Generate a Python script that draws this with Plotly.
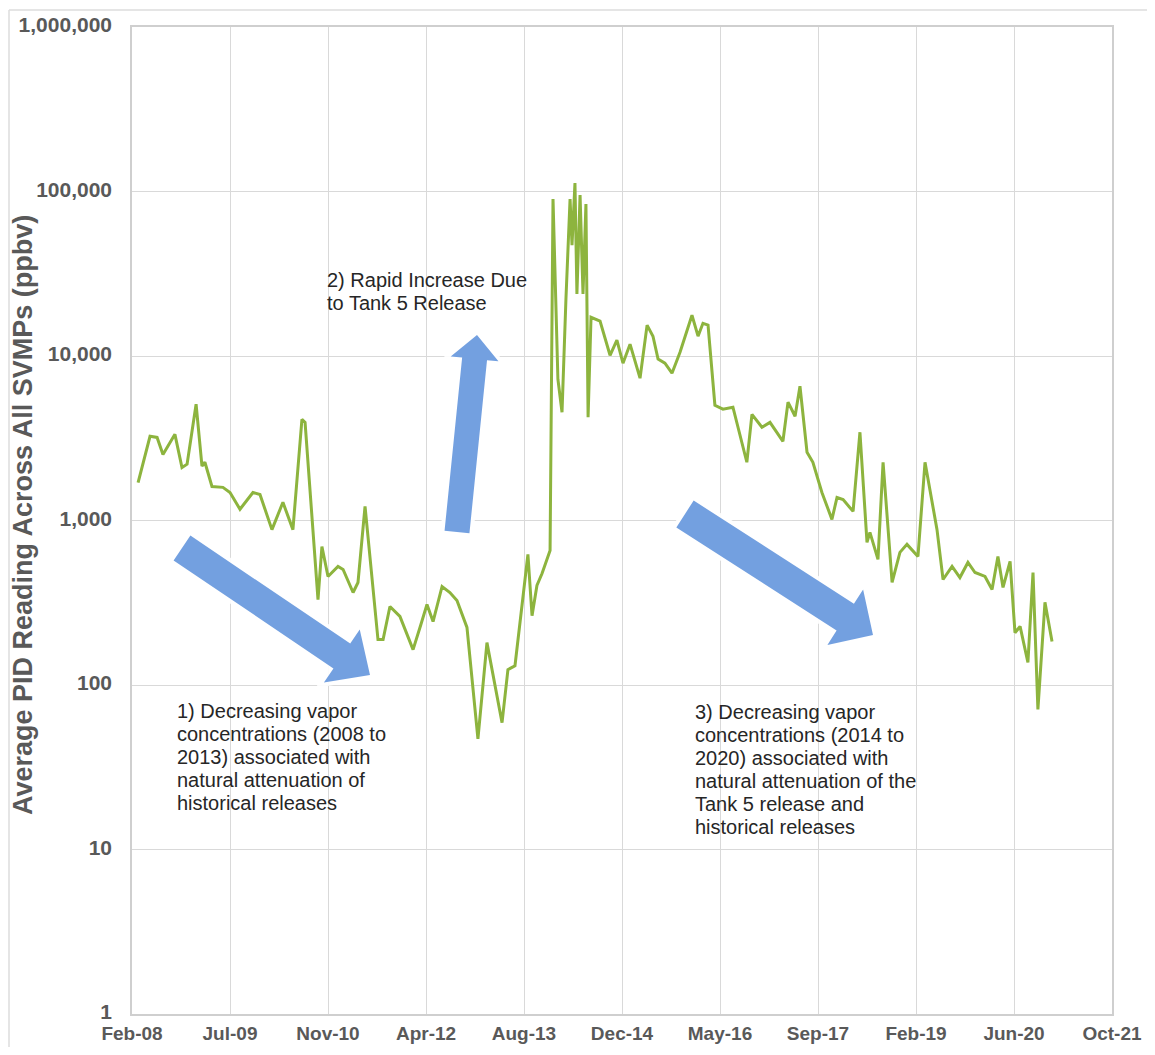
import plotly.graph_objects as go
import pandas as pd

# ---------------- data ----------------
dates = [
    "2008-03-27", "2008-05-27", "2008-07-02", "2008-08-01", "2008-10-01", "2008-11-06", "2008-12-02",
    "2009-01-17", "2009-02-16", "2009-03-03", "2009-04-08", "2009-06-03", "2009-07-09", "2009-08-29", "2009-11-03", "2009-12-09",
    "2010-02-08", "2010-04-05", "2010-05-26", "2010-07-11", "2010-07-27", "2010-10-01", "2010-10-21", "2010-11-21",
    "2011-01-11", "2011-02-06", "2011-03-29", "2011-04-23", "2011-05-29", "2011-08-03", "2011-08-29", "2011-10-03", "2011-11-23",
    "2012-01-29", "2012-03-09", "2012-04-09", "2012-05-10", "2012-06-25", "2012-08-04", "2012-09-09", "2012-10-30", "2012-12-25",
    "2013-02-09", "2013-04-27", "2013-05-27", "2013-07-02", "2013-09-06", "2013-09-27", "2013-10-22", "2013-11-17", "2013-12-28",
    "2014-01-12", "2014-02-06", "2014-02-27", "2014-03-19", "2014-04-09", "2014-04-19", "2014-05-04", "2014-05-14",
    "2014-05-30", "2014-06-14", "2014-06-29", "2014-07-10", "2014-07-25", "2014-09-09", "2014-10-30", "2014-12-04",
    "2015-01-04", "2015-02-09", "2015-04-01", "2015-05-07", "2015-06-06", "2015-07-02", "2015-08-06", "2015-09-11", "2015-10-22", "2015-12-22",
    "2016-01-22", "2016-02-16", "2016-03-13", "2016-04-17", "2016-05-28", "2016-07-18", "2016-09-27", "2016-10-23", "2016-12-13",
    "2017-01-23", "2017-03-30", "2017-04-25", "2017-05-31", "2017-06-25", "2017-07-31", "2017-08-30", "2017-10-15", "2017-12-05", "2017-12-31",
    "2018-01-31", "2018-03-23", "2018-04-27", "2018-06-02", "2018-06-17", "2018-07-28", "2018-08-23", "2018-10-08", "2018-11-17", "2018-12-23",
    "2019-02-17", "2019-03-25", "2019-05-25", "2019-06-25", "2019-08-10", "2019-09-19", "2019-10-30", "2019-12-05",
    "2020-01-25", "2020-03-01", "2020-03-31", "2020-04-26", "2020-06-01", "2020-06-26", "2020-07-22", "2020-08-31",
    "2020-09-26", "2020-10-21", "2020-11-26",
    "2021-01-01",
]

pid_ppbv = [
    1700, 3250, 3200, 2520, 3340, 2100, 2200,
    5090, 2140, 2260, 1610, 1590, 1480, 1170, 1480, 1440,
    880, 1290, 880, 4120, 3950, 330, 695, 457,
    526, 504, 365, 420, 1220, 189, 189, 300, 261,
    164, 233, 309, 243, 397, 365, 326, 224, 47,
    181, 59, 124, 131, 622, 264, 403, 476, 658,
    90000, 7230, 4550, 22200, 90000, 47200, 112700, 23800,
    95200, 23800, 84000, 4240, 17200, 16300, 10100, 12500,
    9040, 11800, 7330, 15400, 13200, 9570, 9040, 7860, 10550, 17700,
    13200, 15800, 15400, 5020, 4750, 4880, 2260, 4420, 3690,
    3950, 3030, 5240, 4300, 6550, 2600, 2260, 1480, 1016, 1380,
    1340, 1136, 3440, 736, 847, 580, 2260, 420, 640, 716,
    605, 2260, 883, 438, 526, 450, 556, 483,
    457, 381, 605, 392, 564, 208, 227, 137,
    483, 71, 318,
    184,
]

x_tick_labels = ["Feb-08", "Jul-09", "Nov-10", "Apr-12", "Aug-13", "Dec-14",
                 "May-16", "Sep-17", "Feb-19", "Jun-20", "Oct-21"]
x_tick_start = "2008-02-25"
x_tick_step_days = 500

y_tick_values = [1, 10, 100, 1000, 10000, 100000, 1000000]
y_tick_labels = ["1", "10", "100", "1,000", "10,000", "100,000", "1,000,000"]

y_title = "Average PID Reading Across All SVMPs (ppbv)"
note1 = ["1) Decreasing vapor", "concentrations (2008 to", "2013) associated with",
         "natural attenuation of", "historical releases"]
note2 = ["2) Rapid Increase Due", "to Tank 5 Release"]
note3 = ["3) Decreasing vapor", "concentrations (2014 to", "2020) associated with",
         "natural attenuation of the", "Tank 5 release and", "historical releases"]

# ---------------- layout helpers (screen pixels) ----------------
OX, OY = 8, 8                      # page body margin
W, H = 1139, 1039                  # figure size
L, R, T, B = 132, 1112, 27, 1014   # plot area in screen pixels


def px(x):
    return (x - L) / (R - L)


def py(y):
    return (B - y) / (B - T)


FONT = "Liberation Sans, Arial, sans-serif"
GRAY = "#595959"
GRID = "#d9d9d9"
ARROW = "rgba(108,155,222,0.95)"

tickvals = pd.date_range(x_tick_start, periods=len(x_tick_labels), freq=f"{x_tick_step_days}D")

fig = go.Figure()
fig.add_trace(go.Scatter(
    x=pd.to_datetime(dates), y=pid_ppbv, mode="lines",
    line=dict(color="#8db43e", width=3), showlegend=False,
))


def block_arrow(tail, tip, w, h, hl):
    tx, ty = tail
    qx, qy = tip
    dx, dy = qx - tx, qy - ty
    n = (dx * dx + dy * dy) ** 0.5
    ux, uy = dx / n, dy / n
    nx, ny = -uy, ux
    bx, by = qx - hl * ux, qy - hl * uy
    pts = [(tx + w * nx, ty + w * ny), (bx + w * nx, by + w * ny), (bx + h * nx, by + h * ny),
           (qx, qy), (bx - h * nx, by - h * ny), (bx - w * nx, by - w * ny), (tx - w * nx, ty - w * ny)]
    return "M " + " L ".join(f"{px(a):.5f},{py(b):.5f}" for a, b in pts) + " Z"


shapes = []
# outer chart border (left and top)
shapes.append(dict(type="line", xref="paper", yref="paper", x0=px(9), x1=px(9), y0=py(10), y1=py(1060),
                   line=dict(color="#dcdcdc", width=1.5), layer="below"))
shapes.append(dict(type="line", xref="paper", yref="paper", x0=px(9), x1=px(1160), y0=py(10), y1=py(10),
                   line=dict(color="#dcdcdc", width=1.5), layer="below"))

# white boxes behind notes
for (x0, y0, x1, y1) in [(168, 694, 385, 812), (318, 262, 540, 314), (686, 692, 945, 856)]:
    shapes.append(dict(type="rect", xref="paper", yref="paper", x0=px(x0), x1=px(x1), y0=py(y0), y1=py(y1),
                       fillcolor="white", line=dict(width=0), layer="between"))

for tail, tip, w, h, hl in [((182, 548), (370, 675), 15, 32, 34),
                            ((457, 532), (477, 335), 12.5, 24, 24),
                            ((685, 514), (873, 635), 16, 33, 33)]:
    p = block_arrow(tail, tip, w, h, hl)
    shapes.append(dict(type="path", path=p, xref="paper", yref="paper", fillcolor="white",
                       line=dict(color="rgba(255,255,255,0.9)", width=8), layer="above"))
    shapes.append(dict(type="path", path=p, xref="paper", yref="paper", fillcolor=ARROW,
                       line=dict(width=0), layer="above"))

annotations = []
for lines, left, base in [(note1, 175, 717), (note2, 325, 286), (note3, 693, 718)]:
    for i, t in enumerate(lines):
        annotations.append(dict(text=t, xref="paper", yref="paper", x=px(left), y=py(base + 23 * i - 6),
                                xanchor="left", yanchor="middle", showarrow=False, align="left",
                                font=dict(family=FONT, size=20, color="#262626")))

annotations.append(dict(text=y_title, xref="paper", yref="paper", x=px(23), y=py(515), textangle=-90,
                        xanchor="center", yanchor="middle", showarrow=False,
                        font=dict(family=FONT, size=27, color=GRAY, weight="bold")))

fig.update_layout(
    width=W, height=H,
    margin=dict(l=L - OX, r=(OX + W) - R, t=T - OY, b=(OY + H) - B, autoexpand=False),
    paper_bgcolor="white", plot_bgcolor="white",
    shapes=shapes, annotations=annotations,
    xaxis=dict(
        type="date", range=[tickvals[0], tickvals[-1]],
        tickmode="array", tickvals=tickvals, ticktext=x_tick_labels,
        showgrid=True, gridcolor=GRID, gridwidth=1,
        showline=True, linecolor="#cfcfcf", linewidth=1.5, mirror=True,
        ticks="", ticklabelstandoff=1,
        tickfont=dict(family=FONT, size=19, color=GRAY, weight="bold"),
        zeroline=False,
    ),
    yaxis=dict(
        type="log", range=[0, 6],
        tickmode="array", tickvals=y_tick_values, ticktext=y_tick_labels,
        showgrid=True, gridcolor=GRID, gridwidth=1,
        showline=True, linecolor="#cfcfcf", linewidth=1.5, mirror=True,
        ticks="", ticklabelstandoff=14, ticklabelshift=-2,
        tickfont=dict(family=FONT, size=21, color=GRAY, weight="bold"),
        zeroline=False,
    ),
)

fig.write_html("out.html")
